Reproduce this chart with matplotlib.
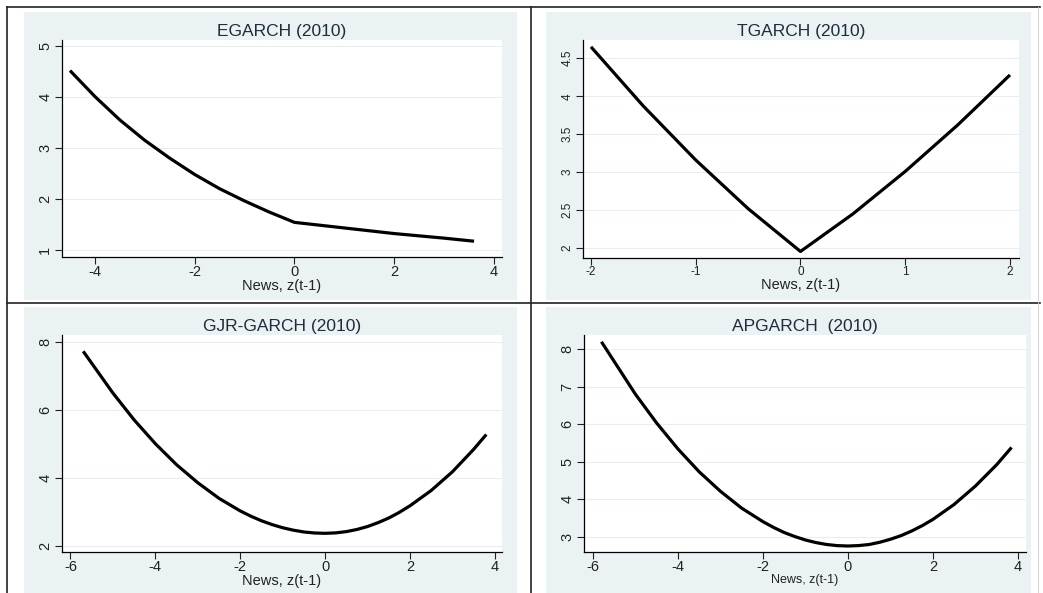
import matplotlib
matplotlib.use('Agg')
import matplotlib.pyplot as plt
from matplotlib.patches import Rectangle
from matplotlib.lines import Line2D

plt.rcParams['font.family'] = ['Liberation Sans', 'DejaVu Sans']
plt.rcParams['axes.unicode_minus'] = False

# news impact curves
egarch_z = [-4.5, -4, -3.5, -3, -2.5, -2, -1.5, -1, -0.5, 0, 1, 2, 3, 3.6]
egarch_h = [4.52, 4.01, 3.55, 3.15, 2.80, 2.48, 2.20, 1.96, 1.74, 1.54, 1.43, 1.32, 1.23, 1.17]

tgarch_z = [-2, -1.5, -1, -0.5, 0, 0.5, 1, 1.5, 2]
tgarch_h = [4.65, 3.87, 3.16, 2.52, 1.956, 2.45, 3.01, 3.62, 4.28]

gjr_z = [-5.7, -5, -4.5, -4, -3.5, -3, -2.5, -2, -1.75, -1.5, -1.25, -1, -0.75,
         -0.5, -0.25, 0, 0.25, 0.5, 0.75, 1, 1.25, 1.5, 1.75, 2, 2.5, 3, 3.5, 3.8]
gjr_h = [7.72, 6.49, 5.70, 5.00, 4.38, 3.85, 3.39, 3.02, 2.865, 2.73, 2.618, 2.525, 2.453,
         2.40, 2.370, 2.36, 2.373, 2.41, 2.473, 2.56, 2.675, 2.81, 2.977, 3.17, 3.62, 4.17, 4.83, 5.27]

apgarch_z = [-5.8, -5, -4.5, -4, -3.5, -3, -2.5, -2, -1.75, -1.5, -1.25, -1, -0.75,
             -0.5, -0.25, 0, 0.25, 0.5, 0.75, 1, 1.25, 1.5, 1.75, 2, 2.5, 3, 3.5, 3.85]
apgarch_h = [8.20, 6.80, 6.03, 5.34, 4.73, 4.21, 3.76, 3.40, 3.246, 3.11, 3.003, 2.91, 2.841,
             2.79, 2.760, 2.75, 2.761, 2.79, 2.850, 2.93, 3.027, 3.15, 3.294, 3.46, 3.86, 4.35, 4.92, 5.38]

W, H = 1043, 593
fig = plt.figure(figsize=(W / 100, H / 100), dpi=100)
fig.patch.set_facecolor('white')

BG = '#eaf2f3'
GRID = '#e6eef0'
TITLE_C = '#1e2d3a'


def px_rect(x0, y0, x1, y1):
    return [x0 / W, 1 - y1 / H, (x1 - x0) / W, (y1 - y0) / H]


def panel(bg, box, z, h, title, xlim, ylim, xticks, yticks, ylabels,
          tick_fs=10.5, xlab_fs=10.5):
    bx = px_rect(*bg)
    fig.add_artist(Rectangle((bx[0], bx[1]), bx[2], bx[3],
                             transform=fig.transFigure, facecolor=BG,
                             edgecolor='none', zorder=-10))
    ax = fig.add_axes(px_rect(*box))
    ax.set_zorder(5)
    ax.set_facecolor('white')
    ax.plot(z, h, color='black', lw=2.3, solid_capstyle='butt',
            solid_joinstyle='round')
    ax.set_xlim(*xlim)
    ax.set_ylim(*ylim)
    ax.set_xticks(xticks)
    ax.set_yticks(yticks)
    ax.set_yticklabels(ylabels, rotation=90, va='center')
    ax.tick_params(labelsize=tick_fs, length=5, width=0.8, colors='#222222',
                   direction='out', pad=1)
    ax.tick_params(axis='y', pad=2)
    for s in ['top', 'right']:
        ax.spines[s].set_visible(False)
    for s in ['left', 'bottom']:
        ax.spines[s].set_linewidth(0.9)
    ax.yaxis.grid(True, color=GRID, lw=0.8)
    ax.set_axisbelow(True)
    ax.set_title(title, fontsize=12.5, color=TITLE_C, pad=3)
    ax.set_xlabel('News, z(t-1)', fontsize=xlab_fs, color='#222222', labelpad=0)
    return ax


panel((24, 12, 517, 300), (62, 40, 502, 257), egarch_z, egarch_h,
      'EGARCH (2010)', (-4.66, 4.16), (0.86, 5.12),
      [-4, -2, 0, 2, 4], [1, 2, 3, 4, 5], ['1', '2', '3', '4', '5'])

panel((546, 12, 1031, 300), (583, 40, 1019, 258), tgarch_z, tgarch_h,
      'TGARCH (2010)', (-2.076, 2.086), (1.87, 4.74),
      [-2, -1, 0, 1, 2], [2, 2.5, 3, 3.5, 4, 4.5],
      ['2', '2.5', '3', '3.5', '4', '4.5'], tick_fs=8.5)

panel((24, 307, 517, 593), (62, 335, 502, 552), gjr_z, gjr_h,
      'GJR-GARCH (2010)', (-6.2, 4.17), (1.81, 8.2),
      [-6, -4, -2, 0, 2, 4], [2, 4, 6, 8], ['2', '4', '6', '8'])

panel((546, 307, 1031, 593), (584, 335, 1026, 552), apgarch_z, apgarch_h,
      'APGARCH  (2010)', (-6.21, 4.19), (2.59, 8.38),
      [-6, -4, -2, 0, 2, 4], [3, 4, 5, 6, 7, 8],
      ['3', '4', '5', '6', '7', '8'], xlab_fs=9)

# table lines around the panels
def fline(x0, y0, x1, y1, lw=1.2, color='#222222'):
    fig.add_artist(Line2D([x0 / W, x1 / W], [1 - y0 / H, 1 - y1 / H],
                          transform=fig.transFigure, color=color, lw=lw,
                          zorder=-5))

fline(7, 7, 1040, 7)
fline(7, 7, 7, 593)
fline(531, 7, 531, 593)
fline(7, 303, 1040, 303)
fline(1038, 7, 1038, 593, lw=0.6, color='#cccccc')

fig.savefig('out.png', dpi=100)
